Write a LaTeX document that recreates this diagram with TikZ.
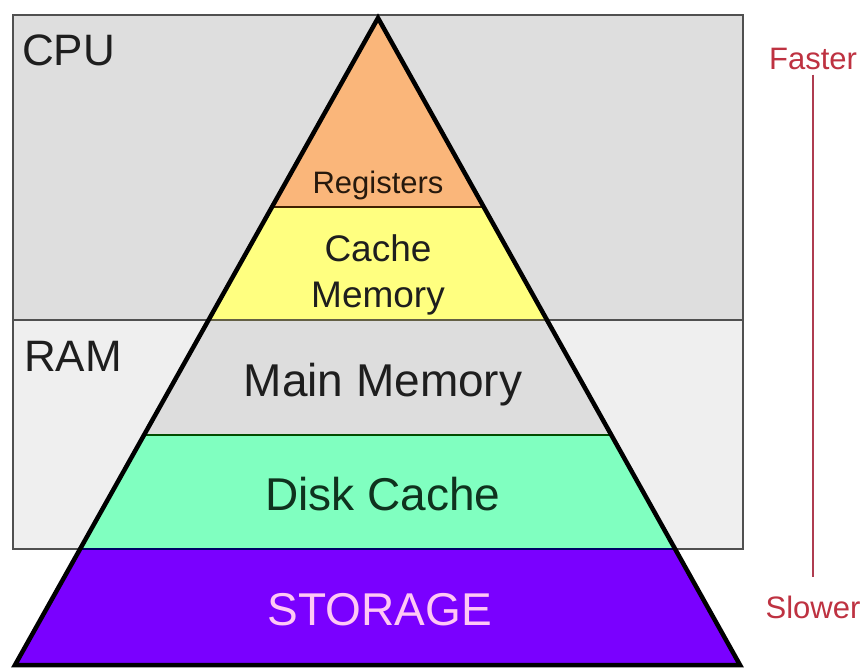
\documentclass[tikz,border=0pt]{standalone}
\usepackage{fontspec}
\setmainfont{Liberation Sans}
\usetikzlibrary{calc}
\definecolor{cpubg}{RGB}{222,222,222}
\definecolor{rambg}{RGB}{239,239,239}
\definecolor{boxline}{RGB}{80,80,80}
\definecolor{regfill}{RGB}{250,182,122}
\definecolor{cachefill}{RGB}{255,255,128}
\definecolor{mainfill}{RGB}{221,221,221}
\definecolor{diskfill}{RGB}{128,255,192}
\definecolor{storfill}{RGB}{122,0,255}
\definecolor{stortext}{RGB}{255,200,245}
\definecolor{speedred}{RGB}{190,50,65}
\definecolor{speedline}{RGB}{175,60,80}
\definecolor{darktext}{RGB}{30,30,30}
\definecolor{disktext}{RGB}{15,50,30}
\begin{document}
\begin{tikzpicture}[x=1pt,y=-1pt,
  regionbox/.style={draw=boxline,line width=1.2pt},
  layersep/.style={draw=black!80,line width=1.2pt},
  layertext/.style={inner sep=0pt,anchor=base,text=darktext},
  regionlabel/.style={inner sep=0pt,anchor=base west,text=darktext,font=\fontsize{44}{50}\selectfont},
  speedlabel/.style={inner sep=0pt,anchor=base,text=speedred,font=\fontsize{31}{36}\selectfont}]
\useasboundingbox (0,0) rectangle (866,669);
\fill[white] (0,0) rectangle (866,669);
% region boxes
\filldraw[regionbox,fill=cpubg] (13,15) rectangle (743,320);
\filldraw[regionbox,fill=rambg] (13,320) rectangle (743,549);
% pyramid corners
\coordinate (apex) at (378,18);
\coordinate (bl) at (15,665);
\coordinate (br) at (740,665);
\coordinate (l1) at ($(apex)!0.2921!(bl)$);
\coordinate (r1) at ($(apex)!0.2921!(br)$);
\coordinate (l2) at ($(apex)!0.4668!(bl)$);
\coordinate (r2) at ($(apex)!0.4668!(br)$);
\coordinate (l3) at ($(apex)!0.6445!(bl)$);
\coordinate (r3) at ($(apex)!0.6445!(br)$);
\coordinate (l4) at ($(apex)!0.8207!(bl)$);
\coordinate (r4) at ($(apex)!0.8207!(br)$);
% layers
\fill[regfill] (apex) -- (r1) -- (l1) -- cycle;
\fill[cachefill] (l1) -- (r1) -- (r2) -- (l2) -- cycle;
\fill[mainfill] (l2) -- (r2) -- (r3) -- (l3) -- cycle;
\fill[diskfill] (l3) -- (r3) -- (r4) -- (l4) -- cycle;
\fill[storfill] (l4) -- (r4) -- (br) -- (bl) -- cycle;
\draw[layersep,draw=black!75!orange] (l1) -- (r1);
\draw[layersep,draw=black!70!yellow] (l2) -- (r2);
\draw[layersep,draw=black!70!green] (l3) -- (r3);
\draw[layersep,draw=blue!40!black] (l4) -- (r4);
\draw[line width=4.5pt,line join=miter] (apex) -- (br) -- (bl) -- cycle;
% labels
\node[regionlabel] (cpu) at (22,65) {CPU};
\node[regionlabel] (ram) at (24,371) {RAM};
\node[layertext,font=\fontsize{31}{36}\selectfont,text=black!80!brown] (registers) at (378,193) {Registers};
\node[layertext,anchor=north,align=center,font=\fontsize{37}{46}\selectfont] (cache) at (378,234) {Cache\\Memory};
\node[layertext,font=\fontsize{46}{52}\selectfont] (main) at (383,396) {Main Memory};
\node[layertext,font=\fontsize{46}{52}\selectfont,text=disktext] (disk) at (383,510) {Disk Cache};
\node[layertext,font=\fontsize{46}{52}\selectfont,text=stortext] (storage) at (380,625) {STORAGE};
% speed scale
\node[speedlabel] (faster) at (813,70) {Faster};
\node[speedlabel] (slower) at (813,618) {Slower};
\draw[speedline,line width=2pt,shorten <=4pt,shorten >=18pt] (faster.south) -- (slower.north);
\end{tikzpicture}
\end{document}
